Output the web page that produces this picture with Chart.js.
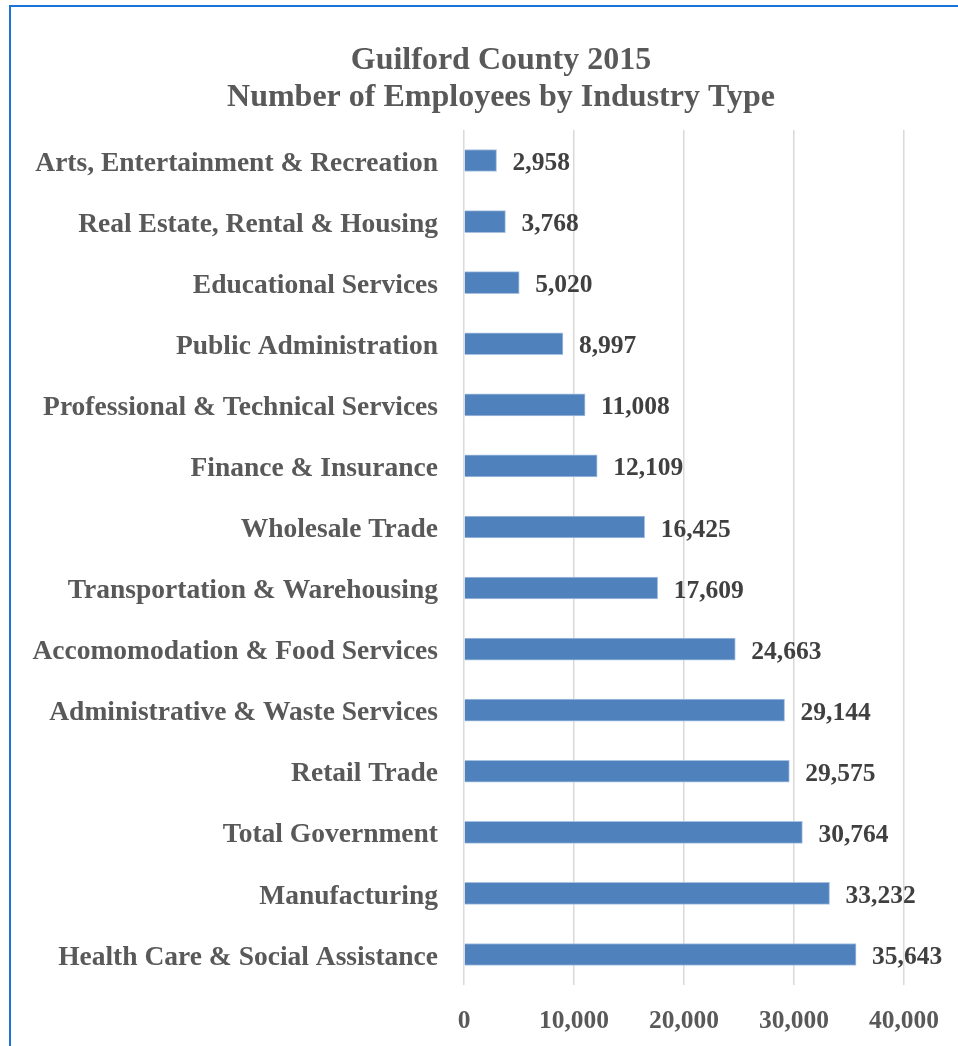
<!DOCTYPE html>
<html>
<head>
<meta charset="utf-8">
<script src="https://cdn.jsdelivr.net/npm/chart.js@4"></script>
<style>
html,body{margin:0;padding:0;background:#fff;}
#wrap{position:relative;width:958px;height:1046px;}
</style>
</head>
<body>
<div id="wrap"><canvas id="c" width="958" height="1046"></canvas></div>
<script>
const categories = [
  "Arts, Entertainment & Recreation",
  "Real Estate, Rental & Housing",
  "Educational Services",
  "Public Administration",
  "Professional & Technical Services",
  "Finance & Insurance",
  "Wholesale Trade",
  "Transportation & Warehousing",
  "Accomomodation & Food Services",
  "Administrative & Waste Services",
  "Retail Trade",
  "Total Government",
  "Manufacturing",
  "Health Care & Social Assistance"
];
const employees = [2958, 3768, 5020, 8997, 11008, 12109, 16425, 17609, 24663, 29144, 29575, 30764, 33232, 35643];
const xTickValues = [0, 10000, 20000, 30000, 40000];
const titleLines = ["Guilford County 2015", "Number of Employees by Industry Type"];

const FONT = "'Liberation Serif', 'DejaVu Serif', serif";

const framePlugin = {
  id: 'frame',
  beforeDraw(chart) {
    const ctx = chart.ctx;
    ctx.save();
    ctx.fillStyle = '#fff';
    ctx.fillRect(0, 0, chart.width, chart.height);
    ctx.strokeStyle = '#1a73d9';
    ctx.lineWidth = 2;
    ctx.beginPath();
    ctx.moveTo(10, chart.height);
    ctx.lineTo(10, 6);
    ctx.lineTo(chart.width, 6);
    ctx.stroke();
    ctx.restore();
  }
};

// Title drawn centred over the original (wider) chart frame, as in the reference
const titlePlugin = {
  id: 'offsetTitle',
  afterDraw(chart) {
    const ctx = chart.ctx;
    ctx.save();
    ctx.font = "bold 32px " + FONT;
    ctx.fillStyle = '#595959';
    ctx.textAlign = 'center';
    ctx.textBaseline = 'middle';
    titleLines.forEach((line, i) => ctx.fillText(line, 501, 61 + i * 37));
    ctx.restore();
  }
};

const valueLabels = {
  id: 'valueLabels',
  afterDatasetsDraw(chart) {
    const ctx = chart.ctx;
    const meta = chart.getDatasetMeta(0);
    ctx.save();
    ctx.font = "bold 25.5px " + FONT;
    ctx.fillStyle = '#404040';
    ctx.textAlign = 'left';
    ctx.textBaseline = 'middle';
    meta.data.forEach((bar, i) => {
      ctx.fillText(employees[i].toLocaleString('en-US'), bar.x + 16, bar.y + 3);
    });
    ctx.restore();
  }
};

new Chart(document.getElementById('c'), {
  type: 'bar',
  data: {
    labels: categories,
    datasets: [{
      data: employees,
      backgroundColor: '#4f81bd',
      borderColor: '#a9c1e0',
      borderWidth: 1,
      barThickness: 22
    }]
  },
  options: {
    indexAxis: 'y',
    responsive: false,
    animation: false,
    layout: { padding: { left: 10, right: 54, top: 130, bottom: 0 } },
    plugins: {
      legend: { display: false },
      tooltip: { enabled: false },
      title: { display: false }
    },
    scales: {
      x: {
        min: 0,
        max: 40000,
        afterBuildTicks(scale) { scale.ticks = xTickValues.map(v => ({ value: v })); },
        afterFit(scale) { scale.height = 61; scale.paddingLeft = 0; scale.paddingRight = 0; },
        grid: { color: '#d9d9d9', lineWidth: 1.5, drawTicks: false },
        border: { display: false },
        ticks: {
          color: '#595959',
          padding: 21,
          font: { family: FONT, size: 25.5, weight: 'bold' },
          callback: v => Number(v).toLocaleString('en-US')
        }
      },
      y: {
        afterFit(scale) { scale.width = 454; scale.paddingTop = 0; scale.paddingBottom = 0; },
        grid: { display: false, drawTicks: false },
        border: { display: false },
        ticks: {
          color: '#595959',
          padding: 26,
          labelOffset: 3,
          font: { family: FONT, size: 27.5, weight: 'bold' }
        }
      }
    }
  },
  plugins: [framePlugin, valueLabels, titlePlugin]
});
</script>
</body>
</html>
